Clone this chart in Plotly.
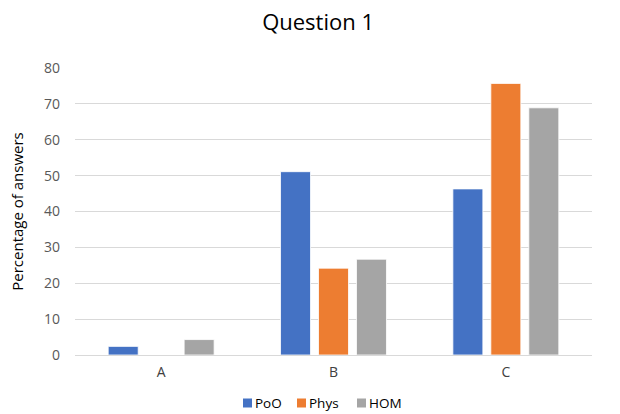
import plotly.graph_objects as go

categories = ["A", "B", "C"]
poo = [2.4, 51.1, 46.3]
phys = [0, 24.2, 75.7]
hom = [4.3, 26.7, 68.9]
series_names = ["PoO", "Phys", "HOM"]
colors = ["#4472C4", "#ED7D31", "#A5A5A5"]

fig = go.Figure()
for name, vals, col in zip(series_names, [poo, phys, hom], colors):
    fig.add_trace(go.Bar(x=categories, y=vals, name=name, showlegend=False,
                         marker=dict(color=col, line=dict(color="white", width=0.8))))

# Plot-area geometry (pixels) used to place the hand-drawn legend
W, H = 620, 414
L, R, T, B = 75, 28, 68, 59
pw, ph = W - L - R, H - T - B


def px_x(x):
    return (x - L) / pw


def px_y(y):
    return (H - B - y) / ph


font_family = "Open Sans, Lato, sans-serif"

# Legend (Excel-style: small square followed closely by the label)
sq_left = [243, 297, 357]
legend_cy = 403
sq = 9
for name, col, xl in zip(series_names, colors, sq_left):
    fig.add_shape(type="rect", xref="paper", yref="paper",
                  x0=px_x(xl), x1=px_x(xl + sq),
                  y0=px_y(legend_cy + sq / 2), y1=px_y(legend_cy - sq / 2),
                  fillcolor=col, line=dict(width=0))
    fig.add_annotation(text=name, xref="paper", yref="paper",
                       x=px_x(xl + sq + 2), y=px_y(legend_cy), xanchor="left", yanchor="middle",
                       showarrow=False, borderpad=0,
                       font=dict(family=font_family, size=13.5, color="#000000"))

fig.update_layout(
    width=W, height=H,
    margin=dict(l=L, r=R, t=T, b=B, autoexpand=False),
    paper_bgcolor="white", plot_bgcolor="white",
    barmode="group", bargap=0.339, bargroupgap=0.21,
    showlegend=False,
    title=dict(text="Question 1", x=0.513, xanchor="center", y=0.945, yanchor="middle",
               font=dict(family=font_family, size=22, color="#000000")),
    font=dict(family=font_family, color="#595959", size=13),
    xaxis=dict(showgrid=False, showline=True, linecolor="#d9d9d9", linewidth=1,
               ticks="", automargin=False, ticklabelstandoff=4,
               tickfont=dict(size=14, color="#404040")),
    yaxis=dict(range=[0, 80], dtick=10, showgrid=True, gridcolor="#d9d9d9", gridwidth=1,
               zeroline=False, showline=False, ticks="", automargin=False,
               tickfont=dict(size=14, color="#595959"), ticklabelstandoff=14,
               title=dict(text="Percentage of answers", standoff=16,
                          font=dict(size=15, color="#000000"))),
)

fig.write_html("out.html", config={"displayModeBar": False},
               post_script="document.body.style.margin='0';document.body.style.overflow='hidden';")
